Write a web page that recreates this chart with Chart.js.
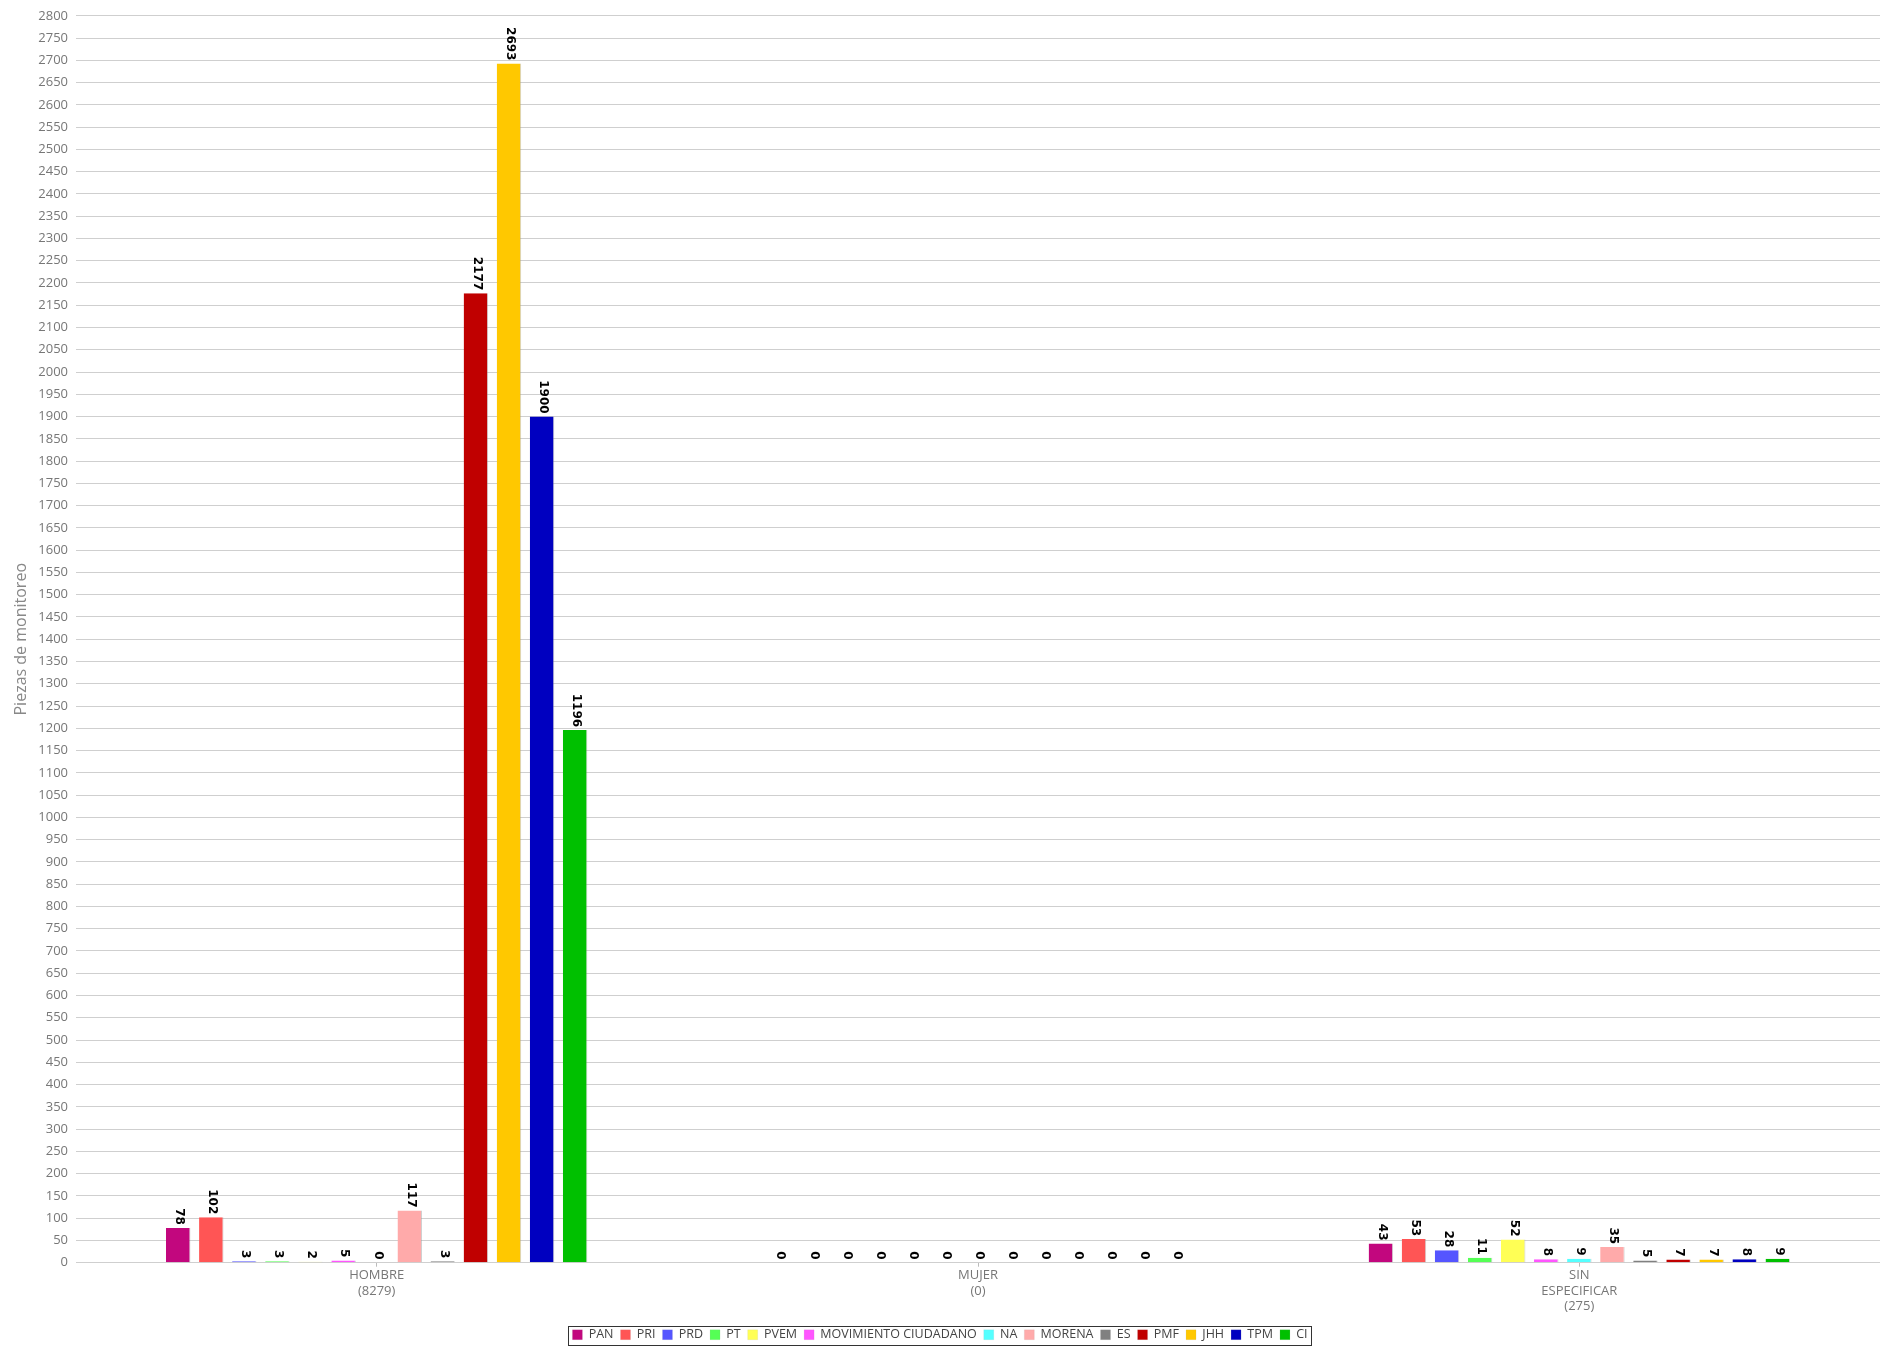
<!DOCTYPE html>
<html>
<head>
<meta charset="utf-8">
<script src="https://cdn.jsdelivr.net/npm/chart.js@4.4.1/dist/chart.umd.min.js"></script>
<style>
html,body{margin:0;padding:0;background:#fff;}
#wrap{position:relative;width:1883px;height:1346px;}
</style>
</head>
<body>
<div id="wrap"><canvas id="c" width="1883" height="1346"></canvas></div>
<script>
const categories = [["HOMBRE","(8279)"],["MUJER","(0)"],["SIN","ESPECIFICAR","(275)"]];
const parties = ["PAN","PRI","PRD","PT","PVEM","MOVIMIENTO CIUDADANO","NA","MORENA","ES","PMF","JHH","TPM","CI"];
const partyColors = ["#C2077E","#FF5555","#5555FF","#55FF55","#FFFF55","#FF55FF","#55FFFF","#FFAAAA","#808080","#C00000","#FFC800","#0000C0","#00C000"];
const hombre = [78,102,3,3,2,5,0,117,3,2177,2693,1900,1196];
const mujer = [0,0,0,0,0,0,0,0,0,0,0,0,0];
const sinEspecificar = [43,53,28,11,52,8,9,35,5,7,7,8,9];
const yMax = 2800;
const yStep = 50;

const datasets = parties.map((p,i)=>({
  label: p,
  data: [hombre[i], mujer[i], sinEspecificar[i]],
  backgroundColor: partyColors[i],
  borderColor: 'rgba(160,160,160,0.5)',
  borderWidth: {right:1, left:0, top:0, bottom:0},
  barPercentage: 0.74,
  categoryPercentage: 0.715
}));

const valueLabels = {
  id:'valueLabels',
  afterDatasetsDraw(chart){
    const ctx = chart.ctx;
    ctx.save();
    ctx.fillStyle = '#000';
    ctx.font = 'bold 12px "DejaVu Sans"';
    chart.data.datasets.forEach((ds,di)=>{
      const meta = chart.getDatasetMeta(di);
      meta.data.forEach((bar,i)=>{
        ctx.save();
        ctx.translate(bar.x + 1, bar.y - 3);
        ctx.rotate(Math.PI/2);
        ctx.textAlign = 'right';
        ctx.textBaseline = 'middle';
        ctx.fillText(String(ds.data[i]), 0, 0);
        ctx.restore();
      });
    });
    ctx.restore();
  }
};

const legendBorder = {
  id:'legendBorder',
  afterDraw(chart){
    const lg = chart.legend;
    if(!lg || !lg.legendHitBoxes || !lg.legendHitBoxes.length) return;
    let l=Infinity,r=-Infinity,t=Infinity,b=-Infinity;
    lg.legendHitBoxes.forEach(h=>{l=Math.min(l,h.left);r=Math.max(r,h.left+h.width);t=Math.min(t,h.top);b=Math.max(b,h.top+h.height);});
    const ctx = chart.ctx;
    ctx.save();
    ctx.strokeStyle='#333';
    ctx.lineWidth=1;
    ctx.strokeRect(Math.round(l-4)+0.5, Math.round(t-3)+0.5, Math.round(r-l+8), Math.round(b-t+6));
    ctx.restore();
  }
};

new Chart(document.getElementById('c'), {
  type:'bar',
  data:{labels:categories, datasets},
  plugins:[valueLabels, legendBorder],
  options:{
    responsive:false,
    animation:false,
    layout:{padding:{top:6,right:3,left:0,bottom:-5}},
    plugins:{
      legend:{
        position:'bottom',
        labels:{boxWidth:10,boxHeight:10,padding:7,color:'#444',font:{family:'"Open Sans"',size:12.5}}
      },
      tooltip:{enabled:false}
    },
    scales:{
      x:{
        grid:{display:true,drawOnChartArea:false,offset:false,tickLength:4,color:'#bbb'},
        border:{display:false},
        ticks:{color:'#777',font:{family:'"Open Sans"',size:13},padding:1,maxRotation:0},
        afterFit(s){s.height += 6;}
      },
      y:{
        min:0,max:yMax,
        ticks:{stepSize:yStep,color:'#777',font:{family:'"Open Sans"',size:13},padding:8,
          callback:(v)=>String(v)},
        grid:{color:'#cfcfcf',drawTicks:false},
        border:{display:false},
        title:{display:true,text:'Piezas de monitoreo',color:'#888',font:{family:'"Open Sans"',size:16},padding:{top:12,bottom:0}},
        afterFit(s){s.width=76;}
      }
    }
  }
});
</script>
</body>
</html>
